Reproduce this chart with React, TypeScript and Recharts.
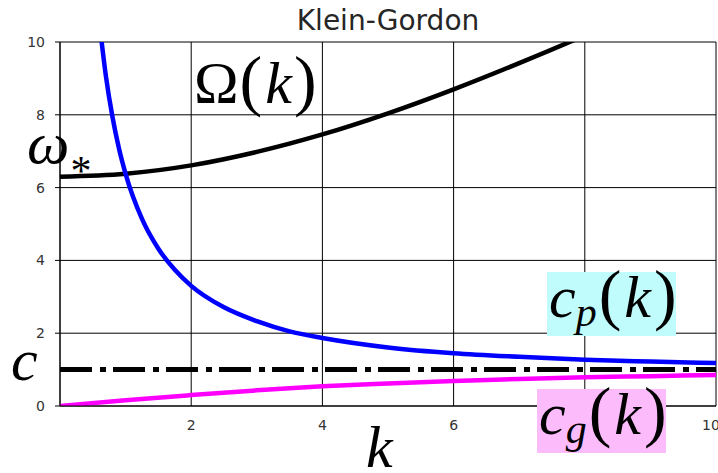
import { CartesianGrid, Line, LineChart, ReferenceLine, XAxis, YAxis } from "recharts";

const WIDTH = 718;
const HEIGHT = 473;

// Ω(k): dispersion relation, starts at ω* and grows with k
const OMEGA_K = [0, 1, 2, 3, 4, 5, 6, 7, 8, 9, 10];
const OMEGA_VALUES = [6.3, 6.38, 6.61, 6.98, 7.46, 8.04, 8.7, 9.42, 10.18, 10.99, 11.82];

// c_p(k): phase speed, diverges near k = 0 and decays toward c
const CP_K = [0.6, 0.7, 0.8, 0.9, 1, 1.25, 1.5, 1.75, 2, 2.5, 3, 3.5, 4, 5, 6, 7, 8, 9, 10];
const CP_VALUES = [10.54, 9.06, 7.94, 7.07, 6.38, 5.14, 4.32, 3.74, 3.3, 2.71, 2.33, 2.05, 1.87, 1.61, 1.45, 1.35, 1.27, 1.22, 1.18];

// c_g(k): group speed, rises from 0 toward c
const CG_K = [0, 1, 2, 3, 4, 5, 6, 7, 8, 9, 10];
const CG_VALUES = [0, 0.16, 0.3, 0.43, 0.54, 0.62, 0.69, 0.74, 0.79, 0.82, 0.85];

const C_SPEED = 1;

const X_TICKS = [2, 4, 6, 8, 10];
const Y_TICKS = [0, 2, 4, 6, 8, 10];

const toPoints = (ks: number[], vs: number[]) => ks.map((k, i) => ({ k, v: vs[i] }));

const omegaData = toPoints(OMEGA_K, OMEGA_VALUES);
const cpData = toPoints(CP_K, CP_VALUES);
const cgData = toPoints(CG_K, CG_VALUES);

const tickStyle = { fontSize: 14, fill: "#333", fontFamily: "DejaVu Sans" };
const mathFont = "'Liberation Serif', 'Times New Roman', serif";

// c_sub(k) with a boxed background, as used for the speed labels
function SpeedLabel({ x, y, sub, fill }: { x: number; y: number; sub: string; fill: string }) {
	return (
		<g>
			<rect x={x} y={y} width={129} height={64} fill={fill} />
			<text x={x + 2} y={y + 45} fontFamily={mathFont} fontSize={60} fill="#000">
				<tspan fontStyle="italic">c</tspan>
				<tspan fontStyle="italic" fontSize={42} dy={9}>
					{sub}
				</tspan>
				<tspan dy={-9} dx={2} fontSize={68}>
					(
				</tspan>
				<tspan fontStyle="italic" dx={3}>
					k
				</tspan>
				<tspan dx={3} fontSize={68}>
					)
				</tspan>
			</text>
		</g>
	);
}

function Labels() {
	return (
		<svg
			width={WIDTH}
			height={HEIGHT}
			style={{ position: "absolute", left: 0, top: 0, pointerEvents: "none" }}
		>
			<text
				x={388}
				y={30}
				textAnchor="middle"
				fontFamily="DejaVu Sans"
				fontSize={28}
				fill="#262626"
			>
				Klein-Gordon
			</text>
			<g fontFamily={mathFont} fontSize={60} fill="#000">
				<text x={194} y={103}>
					Ω
					<tspan dx={1} fontSize={68}>
						(
					</tspan>
					<tspan fontStyle="italic" dx={3}>
						k
					</tspan>
					<tspan dx={2} fontSize={68}>
						)
					</tspan>
				</text>
				<text x={27} y={163} fontStyle="italic">
					ω
					<tspan fontStyle="normal" fontSize={42} dy={22} dx={1}>
						*
					</tspan>
				</text>
				<text x={11} y={380} fontStyle="italic">
					c
				</text>
				<text x={366} y={467} fontStyle="italic">
					k
				</text>
			</g>
			<SpeedLabel x={547} y={272} sub="p" fill="#c0fcfc" />
			<SpeedLabel x={537} y={389} sub="g" fill="#fcbcfc" />
		</svg>
	);
}

export default function App() {
	return (
		<div
			style={{
				position: "absolute",
				left: 0,
				top: 0,
				width: WIDTH,
				height: HEIGHT,
				background: "#fff",
				overflow: "hidden",
			}}
		>
			<LineChart
				width={WIDTH}
				height={HEIGHT}
				margin={{ top: 42, right: 2, bottom: 0, left: 0 }}
			>
				<CartesianGrid stroke="#000" strokeWidth={1} />
				<XAxis
					dataKey="k"
					type="number"
					domain={[0, 10]}
					ticks={X_TICKS}
					allowDataOverflow
					height={67}
					tick={tickStyle}
					tickLine={false}
					tickSize={5}
					tickMargin={9}
					axisLine={{ stroke: "#000" }}
				/>
				<YAxis
					type="number"
					domain={[0, 10]}
					ticks={Y_TICKS}
					allowDataOverflow
					width={60}
					tick={tickStyle}
					tickLine={{ stroke: "#000" }}
					tickSize={5}
					tickMargin={10}
					axisLine={{ stroke: "#000" }}
				/>
				<ReferenceLine
					y={C_SPEED}
					stroke="#000"
					strokeWidth={5}
					strokeDasharray="32 8 6 7"
				/>
				<Line
					data={omegaData}
					dataKey="v"
					type="monotone"
					stroke="#000"
					strokeWidth={4.5}
					dot={false}
					isAnimationActive={false}
				/>
				<Line
					data={cpData}
					dataKey="v"
					type="monotone"
					stroke="#0000ff"
					strokeWidth={4.5}
					dot={false}
					isAnimationActive={false}
				/>
				<Line
					data={cgData}
					dataKey="v"
					type="monotone"
					stroke="#ff00ff"
					strokeWidth={4.5}
					dot={false}
					isAnimationActive={false}
				/>
			</LineChart>
			<Labels />
		</div>
	);
}
